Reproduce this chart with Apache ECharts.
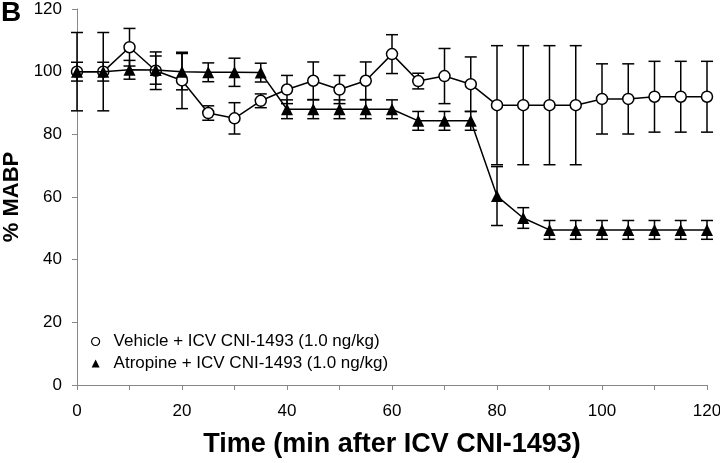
<!DOCTYPE html>
<html>
<head>
<meta charset="utf-8">
<script src="https://cdn.jsdelivr.net/npm/echarts@6/dist/echarts.min.js"></script>
<style>
html,body{margin:0;padding:0;background:#fff;}
#chart{width:720px;height:463px;}
</style>
</head>
<body>
<div id="chart"></div>
<script>
var times = [0,5,10,15,20,25,30,35,40,45,50,55,60,65,70,75,80,85,90,95,100,105,110,115,120];
var vehicleMean = [100,100,107.8,100.3,97.2,86.8,85.1,90.7,94.3,97.1,94.3,97.1,105.6,97,98.6,96,89.3,89.3,89.3,89.3,91.3,91.3,92,92,92];
var vehicleErr  = [12.5,12.5,6,6,9,2.3,5,2.2,4.5,6,4.5,6,6.2,2.5,8.8,8.7,19,19,19,19,11.2,11.2,11.3,11.3,11.3];
var atropineMean = [100,100,100.6,100.5,100,99.8,99.8,99.7,88,88,88,88,88,84.3,84.3,84.3,60.3,53.3,49.5,49.5,49.5,49.5,49.5,49.5,49.5];
var atropineErr  = [3,3,3,4.5,5.8,3,4.5,3,3,3,3,3,3,3,3,3,9.4,3.3,3,3,3,3,3,3,3];
var xTicks = [0,20,40,60,80,100,120];
var yTicks = [0,20,40,60,80,100,120];
var vehicleName = 'Vehicle + ICV CNI-1493 (1.0 ng/kg)';
var atropineName = 'Atropine + ICV CNI-1493 (1.0 ng/kg)';

var FONT = '"Liberation Sans", Arial, Helvetica, sans-serif';

function pairs(xs, ys){ return xs.map(function(x,i){ return [x, ys[i]]; }); }
function errData(xs, m, e){ return xs.map(function(x,i){ return [x, m[i]-e[i], m[i]+e[i]]; }); }

function errRender(params, api){
  var x = api.value(0), lo = api.value(1), hi = api.value(2);
  var top = api.coord([x, hi]), bot = api.coord([x, lo]);
  var hw = 6;
  var st = {stroke:'#000', lineWidth:1.5};
  return {type:'group', children:[
    {type:'line', shape:{x1:top[0], y1:top[1], x2:bot[0], y2:bot[1]}, style:st},
    {type:'line', shape:{x1:top[0]-hw, y1:top[1], x2:top[0]+hw, y2:top[1]}, style:st},
    {type:'line', shape:{x1:bot[0]-hw, y1:bot[1], x2:bot[0]+hw, y2:bot[1]}, style:st}
  ]};
}

var chart = echarts.init(document.getElementById('chart'), null, {renderer:'canvas'});
chart.setOption({
  animation:false,
  backgroundColor:'#fff',
  textStyle:{fontFamily:FONT},
  grid:{left:77, right:13, top:9, bottom:78, containLabel:false, outerBoundsMode:'none'},
  graphic:[{type:'text', left:1, top:-1, style:{text:'B', font:'bold 28px ' + FONT, fill:'#000'}}],
  legend:{
    orient:'vertical', left:86, top:328, padding:5, itemWidth:8, itemHeight:8, itemGap:5,
    textStyle:{fontSize:17, color:'#000', fontFamily:FONT, padding:[0,0,0,9]},
    data:[
      {name:vehicleName, icon:'circle', itemStyle:{color:'#fff', borderColor:'#000', borderWidth:1.2}},
      {name:atropineName, icon:'triangle', itemStyle:{color:'#000', borderColor:'#000', borderWidth:0}}
    ]
  },
  xAxis:{
    type:'value', min:0, max:120, interval:10,
    name:'Time (min after ICV CNI-1493)', nameLocation:'middle', nameGap:46,
    nameTextStyle:{fontSize:27, fontWeight:'bold', color:'#000', fontFamily:FONT},
    axisLine:{lineStyle:{color:'#888', width:1}},
    axisTick:{length:5, lineStyle:{color:'#888'}},
    axisLabel:{fontSize:17, color:'#000', margin:18, formatter:function(v){ return xTicks.indexOf(v) >= 0 ? String(v) : ''; }},
    splitLine:{show:false}
  },
  yAxis:{
    type:'value', min:0, max:120, interval:20,
    name:'% MABP', nameLocation:'middle', nameGap:48,
    nameTextStyle:{fontSize:22, fontWeight:'bold', color:'#000', fontFamily:FONT},
    axisLine:{show:true, lineStyle:{color:'#888', width:1}},
    axisTick:{show:true, length:5, lineStyle:{color:'#888'}},
    axisLabel:{fontSize:17, color:'#000', margin:15, formatter:function(v){ return yTicks.indexOf(v) >= 0 ? String(v) : ''; }},
    splitLine:{show:false}
  },
  series:[
    {type:'custom', name:'vehErr', renderItem:errRender, data:errData(times, vehicleMean, vehicleErr), z:1, silent:true},
    {type:'custom', name:'atrErr', renderItem:errRender, data:errData(times, atropineMean, atropineErr), z:1, silent:true},
    {type:'line', name:vehicleName, data:pairs(times, vehicleMean), z:3,
      symbol:'circle', symbolSize:11, showAllSymbol:true,
      lineStyle:{color:'#000', width:1.5},
      itemStyle:{color:'#fff', borderColor:'#000', borderWidth:1.5}},
    {type:'line', name:atropineName, data:pairs(times, atropineMean), z:4,
      symbol:'triangle', symbolSize:12, showAllSymbol:true,
      lineStyle:{color:'#000', width:1.5},
      itemStyle:{color:'#000', borderColor:'#000', borderWidth:0}}
  ]
});
</script>
</body>
</html>
